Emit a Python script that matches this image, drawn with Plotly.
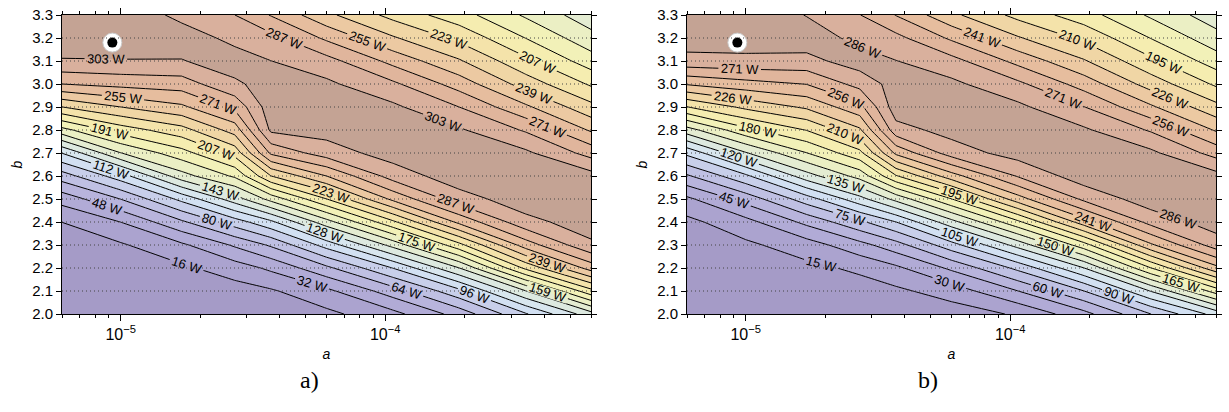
import math
import plotly.graph_objects as go

# ---------------- data ----------------
a_vals = [6.0e-6, 1.0e-5, 1.7e-5, 2.7e-5, 3.7e-5, 6.0e-5, 1.07e-4, 1.9e-4, 3.4e-4, 6.0e-4]
b_vals = [2.0, 2.1, 2.2, 2.3, 2.4, 2.5, 2.6, 2.7, 2.8, 2.9, 3.0, 3.1, 3.2, 3.3]

# panel a) power [W], one list per a-column, rows follow b_vals
left_c0 = [3, 5, 8, 12, 16, 38, 72, 112, 170, 223, 271, 301.5, 313, 316]
left_c1 = [4, 8, 11, 14, 32, 64, 104, 159, 199, 239, 276, 302, 313, 316]
left_c2 = [5, 10, 13, 29, 61, 100, 153, 185, 217, 252, 279, 302, 312, 298]
left_c3 = [7, 9, 24, 50, 88, 136, 178, 213, 246, 275, 300, 311, 298, 287]
left_c4 = [10, 14, 35, 66, 108, 165, 223, 274, 306, 312, 310, 303, 292, 270]
left_c5 = [12, 28, 60, 102, 153, 207, 255, 295, 309, 313, 306, 293, 268, 243]
left_c6 = [27, 56, 96, 149, 204, 259, 294, 310, 314, 306, 290, 266, 241, 218]
left_c7 = [54, 91, 143, 202, 259, 296, 312, 315, 305, 287, 264, 241, 219, 198]
left_c8 = [94, 143, 211, 263, 298, 312, 314, 306, 285, 258, 232, 211, 191, 173]
left_c9 = [137, 202, 262, 300, 311, 314, 309, 281, 253, 228, 205, 183, 165, 150]

# panel b) power [W]
right_c0 = [2, 4, 7, 10, 11, 27, 58, 94, 144, 195, 242, 281, 293, 298]
right_c1 = [3, 6, 10, 12, 25, 51, 87, 134, 176, 214, 250, 282, 293, 298]
right_c2 = [3, 8, 11, 23, 49, 83, 129, 165, 196, 228, 256, 281, 294, 285]
right_c3 = [6, 8, 18, 40, 72, 115, 156, 191, 223, 251, 276, 293, 281, 271]
right_c4 = [8, 12, 27, 54, 90, 140, 194, 244, 280, 294, 292, 286, 275, 255]
right_c5 = [7, 22, 48, 84, 130, 180, 234, 278, 291, 295, 289, 276, 253, 229]
right_c6 = [17, 45, 79, 126, 177, 234, 272, 292, 296, 289, 274, 251, 227, 206]
right_c7 = [40, 75, 120, 174, 234, 274, 294, 297, 288, 271, 249, 227, 207, 187]
right_c8 = [75, 121, 180, 238, 276, 294, 296, 289, 269, 243, 219, 199, 180, 163]
right_c9 = [111, 172, 236, 278, 293, 296, 291, 265, 239, 215, 193, 173, 156, 142]

left_step = 15.94    # contour spacing panel a)
right_step = 15.034  # contour spacing panel b)
n_levels = 19

opt_a = [9.3e-6]
opt_b = [3.18]

x_major = [1e-5, 1e-4]
x_major_text = ["10<sup>\u22125</sup>", "10<sup>\u22124</sup>"]
x_minor = [6e-6, 7e-6, 8e-6, 9e-6, 2e-5, 3e-5, 4e-5, 5e-5, 6e-5, 7e-5, 8e-5, 9e-5,
           2e-4, 3e-4, 4e-4, 5e-4, 6e-4]
y_ticks = [2.0, 2.1, 2.2, 2.3, 2.4, 2.5, 2.6, 2.7, 2.8, 2.9, 3.0, 3.1, 3.2, 3.3]

band_colors = ["#a59bc7", "#aba3cf", "#b1abd6", "#b8b4dc", "#bfc0e3", "#c8cfea",
               "#d2e0f2", "#d8e6ee", "#dde9e0", "#e4ecd2", "#ebefc4", "#f2f1b8",
               "#f5edb0", "#f4e3aa", "#f0d6a5", "#ecc9a2", "#e6bd9e", "#e0b59c",
               "#d9b09d", "#c4a394"]

# ---------------- figure ----------------
left_cols = [left_c0, left_c1, left_c2, left_c3, left_c4, left_c5, left_c6, left_c7, left_c8, left_c9]
right_cols = [right_c0, right_c1, right_c2, right_c3, right_c4, right_c5, right_c6, right_c7, right_c8, right_c9]
z_left = [list(r) for r in zip(*left_cols)]
z_right = [list(r) for r in zip(*right_cols)]

nb = len(band_colors)
colorscale = [[j / (nb - 1), c] for j, c in enumerate(band_colors)]

FONT = "Liberation Sans"
W, H = 1229, 412
x_dom = [(62 / W, 591 / W), (687 / W, 1216 / W)]
y_dom = (1 - 314 / H, 1 - 15 / H)

fig = go.Figure()

for i, (z, step) in enumerate([(z_left, left_step), (z_right, right_step)]):
    xa = "x" if i == 0 else "x2"
    ya = "y" if i == 0 else "y2"
    fig.add_trace(go.Contour(
        x=a_vals, y=b_vals, z=z, xaxis=xa, yaxis=ya,
        autocontour=False,
        contours=dict(start=step, end=step * n_levels, size=step, coloring="fill",
                      showlabels=True,
                      labelfont=dict(family=FONT, size=13, color="black")),
        colorscale=colorscale,
        line=dict(color="black", width=1, smoothing=0),
        showscale=True,
        # colour bar kept off the page, without tick texts: only used so that
        # the contour labels get the " W" suffix
        colorbar=dict(tickformat=".0f", ticksuffix=" W", x=3, xanchor="left",
                      thickness=2, outlinewidth=0, ticks="", len=0.2,
                      tickmode="array", tickvals=[],
                      tickfont=dict(color="rgba(0,0,0,0)", size=8)),
        hoverinfo="skip",
    ))
    fig.add_trace(go.Scatter(
        x=opt_a, y=opt_b, xaxis=xa, yaxis=ya, mode="markers",
        marker=dict(size=19, color="white", line=dict(color="#cccccc", width=1)),
        showlegend=False, hoverinfo="skip"))
    fig.add_trace(go.Scatter(
        x=opt_a, y=opt_b, xaxis=xa, yaxis=ya, mode="markers",
        marker=dict(size=10, color="black"),
        showlegend=False, hoverinfo="skip"))

    # dotted grid drawn above the filled contours
    for yv in y_ticks[1:-1]:
        fig.add_shape(type="line", xref=f"{xa} domain", yref=ya, x0=0, x1=1, y0=yv, y1=yv,
                      line=dict(color="#444444", width=1, dash="1px,3px"), layer="above")
    for xv in x_major:
        lx = math.log10(xv)
        fig.add_shape(type="line", xref=xa, yref=f"{ya} domain", x0=lx, x1=lx, y0=0, y1=1,
                      line=dict(color="#444444", width=1, dash="1px,3px"), layer="above")

axis_common = dict(showline=True, linecolor="black", linewidth=1, mirror="ticks",
                   ticks="outside", tickcolor="black", showgrid=False, zeroline=False,
                   layer="above traces")

for i in range(2):
    sfx = "" if i == 0 else "2"
    fig.update_layout(**{
        f"xaxis{sfx}": dict(
            axis_common, type="log", domain=list(x_dom[i]),
            range=[math.log10(a_vals[0]), math.log10(a_vals[-1])],
            anchor=f"y{sfx}", tickvals=x_major, ticktext=x_major_text,
            ticklen=6, tickfont=dict(size=16, family=FONT, color="black"),
            minor=dict(tickvals=x_minor, ticklen=3, ticks="outside", tickcolor="black",
                       showgrid=False),
            title=dict(text="<i>a</i>", font=dict(size=14, family=FONT, color="black"),
                       standoff=6)),
        f"yaxis{sfx}": dict(
            axis_common, domain=list(y_dom), range=[2.0, 3.3], anchor=f"x{sfx}",
            tickvals=y_ticks, tickformat=".1f", ticklen=5,
            tickfont=dict(size=15, family=FONT, color="black"),
            title=dict(text="<i>b</i>", font=dict(size=14, family=FONT, color="black"),
                       standoff=6)),
    })

fig.add_annotation(text="a)", x=298 / W, y=1 - 395 / H, xref="paper", yref="paper",
                   showarrow=False, font=dict(family="Liberation Serif", size=24, color="black"))
fig.add_annotation(text="b)", x=940 / W, y=1 - 395 / H, xref="paper", yref="paper",
                   showarrow=False, font=dict(family="Liberation Serif", size=24, color="black"))

fig.update_layout(
    width=W, height=H,
    margin=dict(l=0, r=0, t=0, b=0, autoexpand=False),
    paper_bgcolor="white", plot_bgcolor="white",
    font=dict(family=FONT, color="black"),
    showlegend=False,
)

fig.write_html("out.html")
